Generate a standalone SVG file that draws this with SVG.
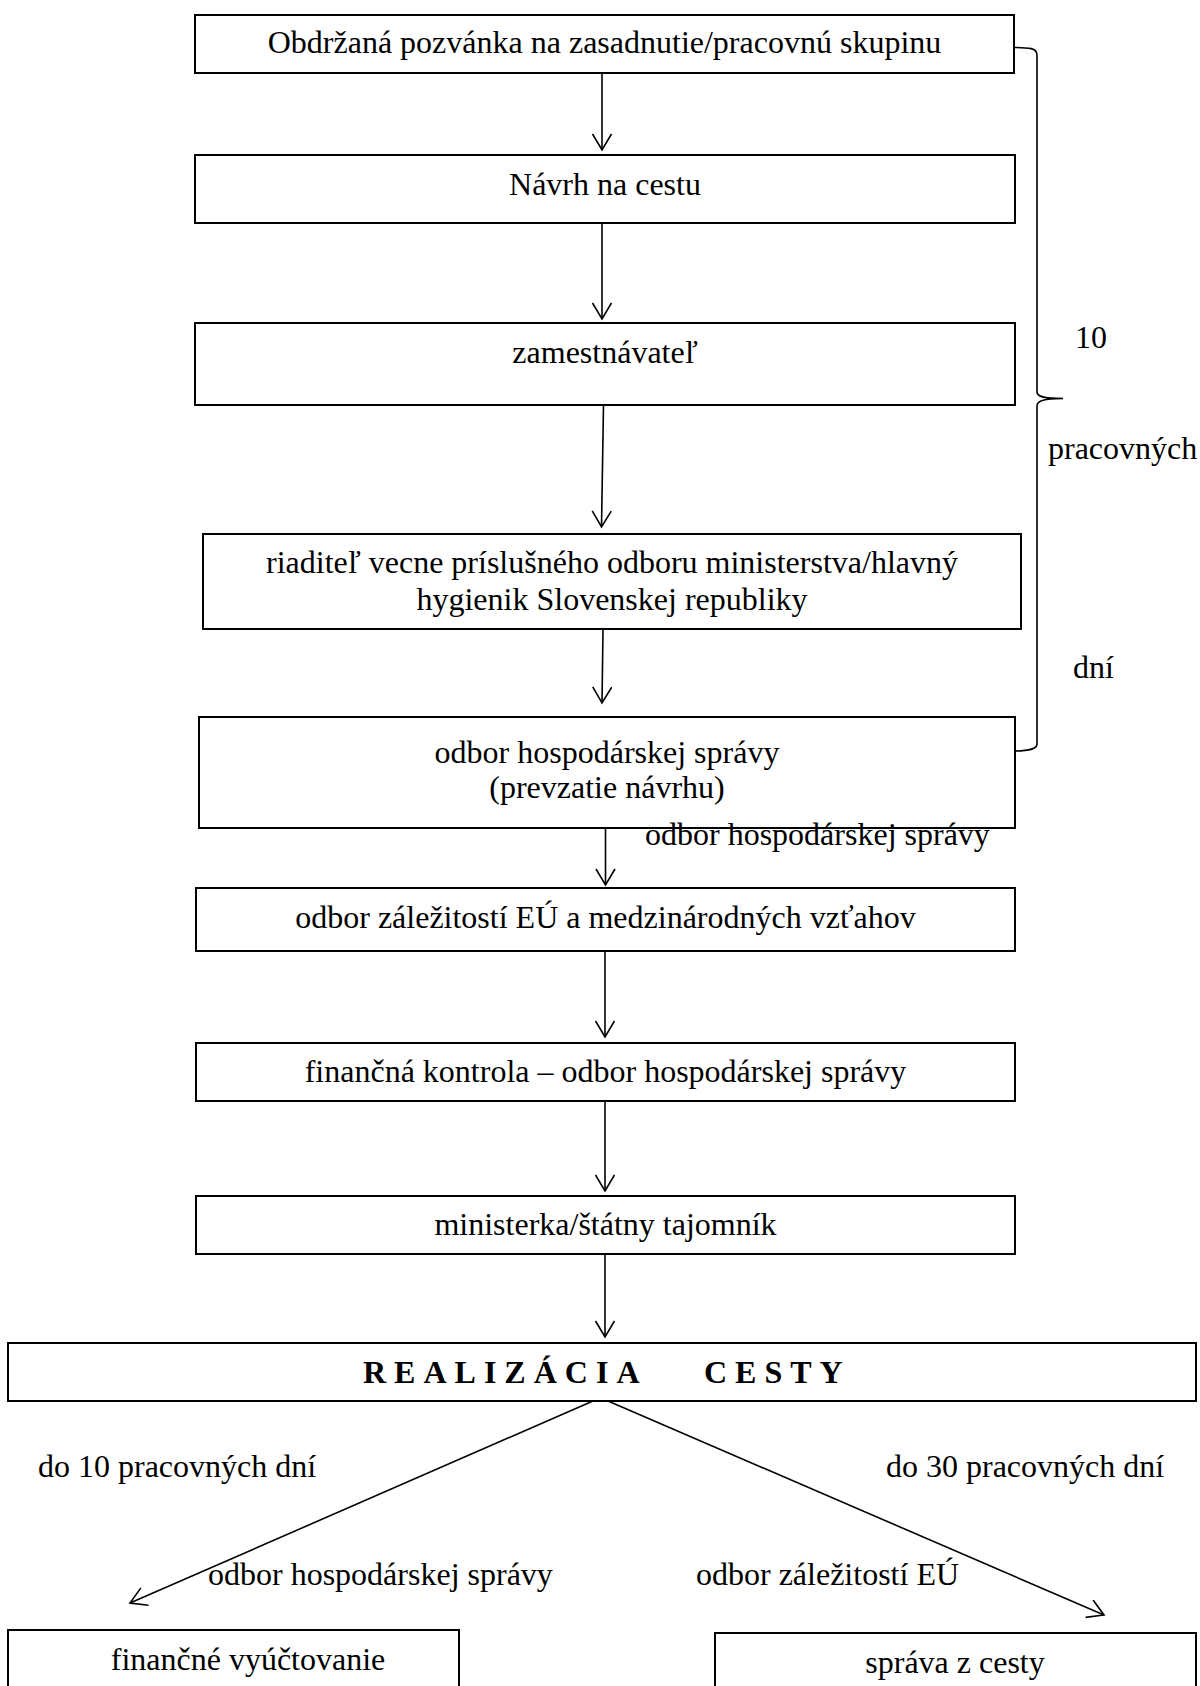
<svg xmlns="http://www.w3.org/2000/svg" width="1200" height="1686" viewBox="0 0 1200 1686">
<style>
.box{fill:#fff;stroke:#000;stroke-width:2}
.t{font-family:"Liberation Serif","Times New Roman",serif;font-size:32px;fill:#000}
.c{text-anchor:middle}
.b{font-weight:bold;letter-spacing:8px}
.ln{fill:none;stroke:#000;stroke-width:1.6}
</style>
<defs>
<marker id="ah" markerWidth="24" markerHeight="24" refX="17" refY="10" orient="auto" markerUnits="userSpaceOnUse" viewBox="0 0 24 24">
<path d="M1,0.5 L17,10 L1,19.5" fill="none" stroke="#000" stroke-width="1.6"/>
</marker>
</defs>
<rect width="1200" height="1686" fill="#fff"/>
<g id="connectors">
<line class="ln" x1="602" y1="73" x2="602" y2="150" marker-end="url(#ah)"/>
<line class="ln" x1="602" y1="223" x2="602" y2="319" marker-end="url(#ah)"/>
<line class="ln" x1="603.5" y1="405" x2="601.5" y2="527" marker-end="url(#ah)"/>
<line class="ln" x1="603" y1="629" x2="602" y2="703" marker-end="url(#ah)"/>
<line class="ln" x1="605.5" y1="828" x2="605.5" y2="885" marker-end="url(#ah)"/>
<line class="ln" x1="605" y1="951" x2="605" y2="1037" marker-end="url(#ah)"/>
<line class="ln" x1="605" y1="1101" x2="605" y2="1191" marker-end="url(#ah)"/>
<line class="ln" x1="605" y1="1254" x2="605" y2="1337" marker-end="url(#ah)"/>
<line class="ln" x1="593" y1="1401" x2="130" y2="1603" marker-end="url(#ah)"/>
<line class="ln" x1="608" y1="1401" x2="1104" y2="1615" marker-end="url(#ah)"/>
<path class="ln" d="M1011,47.5 C1030,47.5 1037,48 1037,55 L1037,392 C1037,397 1045,398.5 1063,398.5 C1045,399 1037,400 1037,406 L1037,744 C1037,749 1030,751 1011,751"/>
</g>
<g id="n1"><rect class="box" x="195" y="15" width="819" height="58"/><text class="t c" x="604.5" y="53">Obdržaná pozvánka na zasadnutie/pracovnú skupinu</text></g>
<g id="n2"><rect class="box" x="195" y="155" width="820" height="68"/><text class="t c" x="605" y="195">Návrh na cestu</text></g>
<g id="n3"><rect class="box" x="195" y="323" width="820" height="82"/><text class="t c" x="605" y="363">zamestnávateľ</text></g>
<g id="n4"><rect class="box" x="203" y="534" width="818" height="95"/><text class="t c" x="612" y="573">riaditeľ vecne príslušného odboru ministerstva/hlavný</text><text class="t c" x="612" y="610">hygienik Slovenskej republiky</text></g>
<g id="n5"><rect class="box" x="199" y="717" width="816" height="111"/><text class="t c" x="607" y="763">odbor hospodárskej správy</text><text class="t c" x="607" y="798">(prevzatie návrhu)</text></g>
<g id="n6"><rect class="box" x="196" y="888" width="819" height="63"/><text class="t c" x="605.5" y="928">odbor záležitostí EÚ a medzinárodných vzťahov</text></g>
<g id="n7"><rect class="box" x="196" y="1043" width="819" height="58"/><text class="t c" x="605.5" y="1082">finančná kontrola – odbor hospodárskej správy</text></g>
<g id="n8"><rect class="box" x="196" y="1196" width="819" height="58"/><text class="t c" x="605.5" y="1235">ministerka/štátny tajomník</text></g>
<g id="n9"><rect class="box" x="8" y="1343" width="1188" height="58"/><text class="t b" x="363" y="1383">REALIZÁCIA</text><text class="t b" x="704" y="1383">CESTY</text></g>
<g id="n10"><rect class="box" x="8" y="1630" width="451" height="80"/><text class="t c" x="248" y="1670">finančné vyúčtovanie</text></g>
<g id="n11"><rect class="box" x="715" y="1633" width="481" height="80"/><text class="t c" x="955" y="1673">správa z cesty</text></g>
<g id="labels">
<text class="t" x="1075" y="348">10</text>
<text class="t" x="1048" y="459">pracovných</text>
<text class="t" x="1073" y="678">dní</text>
<text class="t" x="645" y="845">odbor hospodárskej správy</text>
<text class="t" x="38" y="1477">do 10 pracovných dní</text>
<text class="t" x="886" y="1477">do 30 pracovných dní</text>
<text class="t" x="208" y="1585">odbor hospodárskej správy</text>
<text class="t" x="696" y="1585">odbor záležitostí EÚ</text>
</g>
</svg>
